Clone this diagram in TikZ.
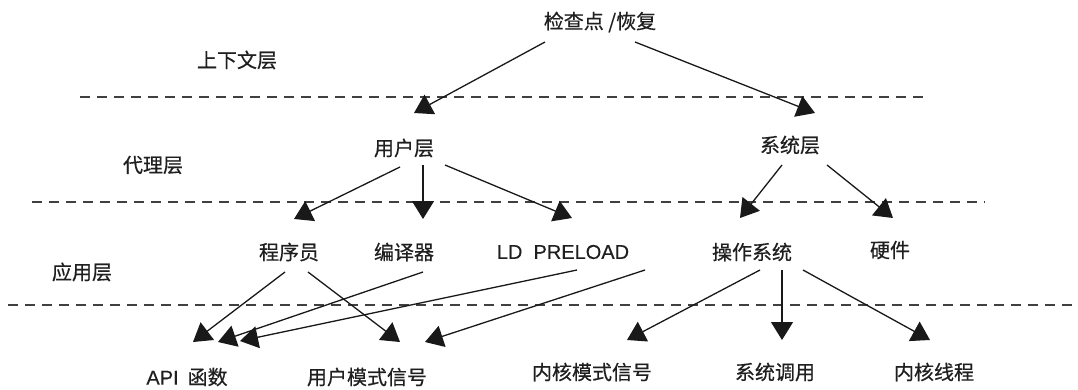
\documentclass[tikz,border=0pt]{standalone}
\usepackage{fontspec}
\setmainfont{Noto Sans CJK SC}[BoldFont=Noto Sans CJK SC, BoldFeatures={FakeBold=0.5}]
\newfontfamily\latf{Liberation Sans}[BoldFont=Liberation Sans, BoldFeatures={FakeBold=0.3}]
\usetikzlibrary{arrows.meta,calc}
\begin{document}
\begin{tikzpicture}[x=1pt,y=-1pt,
  lbl/.style={font=\fontsize{20}{24}\selectfont\bfseries, inner sep=0pt, text=black!88},
  arr/.style={line width=1.3pt, black!90, -{Triangle[length=18pt,width=22pt]}},
  sep/.style={line width=1.4pt, dash pattern=on 10pt off 7pt, black!75}]
\useasboundingbox[fill=white] (0,0) rectangle (1078,390);
% layer separators
\draw[sep] (80,97) -- (930,97);
\draw[sep] (32,202) -- (985,202);
\draw[sep] (8,305) -- (1072,305);
% layer labels
\node[lbl] (lctx) at (237,60) {上下文层};
\node[lbl] (lagt) at (153,165) {代理层};
\node[lbl] (lapp) at (82,272) {应用层};
% nodes
\node[lbl] (ckpt) at (600,22) {检查点 /恢复};
\node[lbl] (user) at (404,148) {用户层};
\node[lbl] (sys)  at (790,145) {系统层};
\node[lbl] (prog) at (289,252) {程序员};
\node[lbl] (comp) at (404,252) {编译器};
\node[lbl] (ld)   at (563,252) {\latf LD\ \ PRELOAD};
\node[lbl] (os)   at (752,252) {操作系统};
\node[lbl] (hw)   at (890,250) {硬件};
\node[lbl] (api)  at (187,377) {{\latf API}\ \ 函数};
\node[lbl] (ums)  at (367,377) {用户模式信号};
\node[lbl] (kms)  at (592,372) {内核模式信号};
\node[lbl] (sc)   at (775,372) {系统调用};
\node[lbl] (kt)   at (934,372) {内核线程};
% connectors
\draw[arr] ($(ckpt)+(-55,20)$) -- ($(user)+(10,-35)$);
\draw[arr] ($(ckpt)+(35,20)$) -- ($(sys)+(25,-32)$);
\draw[arr] ($(user)+(-4,19)$) -- ($(prog)+(5,-33)$);
\draw[arr] ($(user)+(19,17)$) -- ($(comp)+(19,-33)$);
\draw[arr] ($(user)+(41,17)$) -- ($(ld)+(9,-34)$);
\draw[arr] ($(sys)+(-8,20)$) -- ($(os)+(-12,-34)$);
\draw[arr] ($(sys)+(37,20)$) -- ($(hw)+(3,-32)$);
\draw[arr] ($(prog)+(-4,20)$) -- ($(api)+(6,-35)$);
\draw[arr] ($(prog)+(19,20)$) -- ($(ums)+(33,-35)$);
\draw[arr] ($(comp)+(19,20)$) -- ($(api)+(31,-35)$);
\draw[arr] ($(ld)+(14,18)$) -- ($(api)+(53,-36)$);
\draw[arr] ($(ld)+(82,18)$) -- ($(ums)+(58,-35)$);
\draw[arr] ($(os)+(8,18)$) -- ($(kms)+(35,-32)$);
\draw[arr] ($(os)+(30,18)$) -- ($(sc)+(7,-32)$);
\draw[arr] ($(os)+(51,18)$) -- ($(kt)+(-4,-32)$);
\end{tikzpicture}
\end{document}
